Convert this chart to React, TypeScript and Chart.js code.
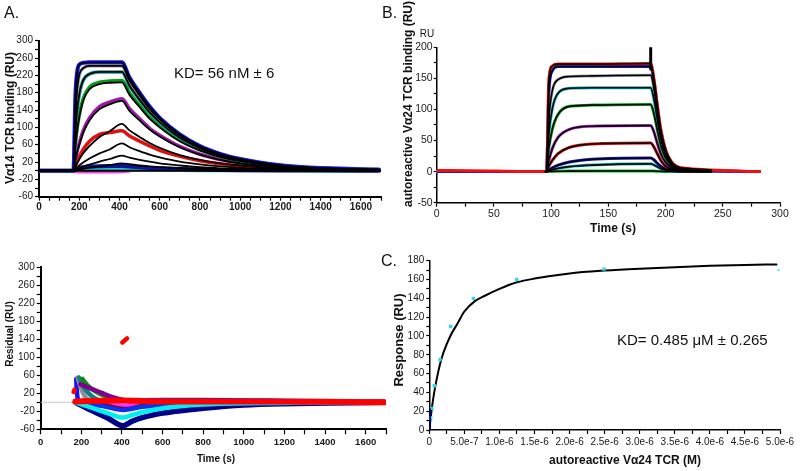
import React, { useEffect, useRef } from 'react';
import { Chart, registerables } from 'chart.js';
Chart.register(...registerables);

const FONT = '"Liberation Sans", Arial, Helvetica, sans-serif';

// ---------- Panel A: Va14 TCR sensorgrams ----------
const A_T = [0, 165, 171, 181, 191, 201, 221, 251, 301, 351, 412, 450, 500, 550, 600, 700, 800, 900, 1000, 1200, 1400, 1690];
const A_FIT1 = [0, 0, 0, 175, 232, 245, 249, 250, 250, 250, 250, 215, 180, 148, 122, 84, 57, 39, 27, 12.5, 6, 2.5];
const A_FIT2 = [0, 0, 0, 133, 194, 223, 237, 242, 242, 242, 242, 208, 174, 143, 119, 81, 56, 38, 26, 12, 6, 2.4];
const A_FIT3 = [0, 0, 0, 91, 146, 178, 210, 223, 228, 228, 228, 196, 164, 135, 112, 76, 52, 35, 24, 11, 5.5, 2.3];
const A_FIT4 = [0, 0, 0, 57, 98, 126, 163, 188, 200, 203, 204, 175, 147, 120, 100, 68, 47, 32, 22, 10, 5, 2];
const A_GREEN = [0, 0, 0, 60, 102, 130, 168, 193, 204, 207, 208, 180, 151, 124, 103, 70, 48, 33, 22, 10, 5, 2];
const A_FIT5 = [0, 0, 0, 24, 45, 61, 89, 116, 142, 153, 161, 138, 116, 95, 79, 54, 37, 25, 17, 8, 4, 1.6];
const A_MAGENTA = [0, 0, 0, 26, 48, 65, 94, 122, 148, 158, 166, 143, 120, 98, 82, 56, 38, 26, 18, 8, 4, 1.7];
const A_FIT6 = [0, 0, 0, 10, 18, 27, 41, 57, 78, 91, 108, 93, 78, 64, 53, 36, 25, 17, 12, 5, 2.6, 1];
const A_RED = [0, 0, 0, 12, 22, 33, 50, 68, 84, 88, 92, 80, 68, 57, 47, 33, 23, 16, 11, 5, 2.5, 1];
const A_FIT7 = [0, 0, 0, 4.4, 8.8, 12.6, 19.5, 28, 40, 49, 63, 54, 45, 37, 31, 21, 14.5, 10, 6.7, 3.2, 1.5, 0.6];
const A_FIT8 = [0, 0, 0, 2, 4, 6, 10, 14, 21, 27, 35, 30, 25, 21, 17, 12, 8, 5.4, 3.7, 1.8, 0.8, 0.4];
const A_FIT9 = [0, 0, 0, 1, 2, 3, 4.5, 7, 10, 13, 17, 15, 12, 10, 8.3, 5.7, 3.9, 2.6, 1.8, 0.9, 0.4, 0.2];
const A_FIT10 = [0, 0, 0, 3, 5, 6.5, 8, 9.5, 10.5, 11, 11, 9.5, 8, 6.5, 5.4, 3.7, 2.5, 1.7, 1.2, 0.5, 0.3, 0.1];
const A_FIT11 = [0, 0, 0, 1, 1.5, 2, 2.5, 3, 3, 3, 3, 2.6, 2.2, 1.8, 1.5, 1, 0.7, 0.5, 0.3, 0.2, 0.1, 0];
const A_PINK_T = [171, 300, 412, 450];
const A_PINK_V = [-2, -2.5, -2, 0];
const A_ZERO_T = [0, 1700];
const A_ZERO_V = [0, 0];

// ---------- Panel B: autoreactive Va24 TCR sensorgrams ----------
const B_T = [0, 10, 95, 96, 98, 101, 106, 116, 136, 186, 187, 190, 193, 196, 200, 205, 210, 220, 240, 282];
const B_1 = [2, 2, 0, 0, 147, 170, 173, 173, 173, 174, 174, 147, 104, 66, 35, 16, 8, 5, 2.5, 0];
const B_2 = [0, 0, 0, 0, 127, 162, 169, 169, 169, 169, 169, 144, 101, 64, 34, 15, 7.6, 2.5, 0.8, 0];
const B_3 = [0, 0, 0, 0, 84, 130, 148, 153, 154, 155, 155, 132, 93, 59, 31, 14, 7, 2.3, 0.8, 0];
const B_4 = [0, 0, 0, 0, 61, 101, 126, 134, 135, 135, 135, 115, 81, 51, 27, 12, 6, 2, 0.7, 0];
const B_5 = [0, 0, 0, 0, 38, 68, 92, 105, 107, 108, 108, 92, 65, 41, 22, 10, 5, 1.6, 0.5, 0];
const B_6 = [0, 0, 0, 0, 18, 37, 55, 68, 73, 74, 74, 63, 44, 28, 15, 6.7, 3.3, 1.1, 0.4, 0];
const B_7 = [0, 0, 0, 0, 9, 18, 29, 39, 44.5, 46, 46, 39, 28, 17.5, 9, 4, 2, 0.7, 0.2, 0];
const B_8 = [0, 0, 0, 0, 2.6, 6, 10.3, 15.4, 19.8, 22, 22, 18.7, 13, 8.4, 4.4, 2, 1, 0.3, 0.1, 0];
const B_9 = [0, 0, 0, 0, 1.3, 2.9, 5.2, 8, 10.5, 12.5, 12.5, 10.6, 7.5, 4.8, 2.5, 1.1, 0.6, 0.2, 0, 0];
const B_10 = [0, 0, 0, 0, 0.2, 0.4, 0.6, 0.8, 1, 1, 1, 0.85, 0.6, 0.4, 0.2, 0.1, 0, 0, 0, 0];
const B_SPIKE_T = [187, 187];
const B_SPIKE_V = [165, 200];

// ---------- Panel residual ----------
const R_NAVY_T = [171, 250, 330, 405, 450, 500, 600, 700, 800, 1000, 1200, 1690];
const R_NAVY_V = [0, -18, -35, -52, -42, -34, -24, -18, -13, -6, -3, 0];
const R_CYAN_T = [171, 250, 330, 405, 450, 500, 600, 800, 1000, 1690];
const R_CYAN_V = [0, -12, -24, -34, -28, -22, -13, -5, -2, 0];
const R_BLUE_T = [171, 300, 405, 500, 700, 1000, 1690];
const R_BLUE_V = [0, -8, -17, -10, -5, -2, 0];
const R_BLUE2_T = [400, 600, 800, 1100, 1690];
const R_BLUE2_V = [4, 5, 5, 4, 1];
const R_DKRED_T = [300, 420, 500, 600];
const R_DKRED_V = [-5, -15, -8, -3];
const R_MAG_T = [171, 420, 500];
const R_MAG_V = [0, -8, -3];
const R_PURPLE_T = [195, 250, 300, 350, 405, 450];
const R_PURPLE_V = [40, 30, 21, 12, 5, 2];
const R_GREEN_T = [205, 230, 260, 300, 350, 405];
const R_GREEN_V = [52, 38, 27, 17, 9, 3];
const R_TEAL_T = [188, 210, 240, 270, 300];
const R_TEAL_V = [55, 35, 18, 8, 2];
const R_GRAY_T = [182, 195, 215, 240];
const R_GRAY_V = [55, 35, 15, 3];
const R_ROYAL_T = [175, 178, 185];
const R_ROYAL_V = [52, 25, 0];
const R_RED_T = [171, 250, 400, 600, 800, 1000, 1200, 1400, 1690];
const R_RED_V = [2, 3, 4, 2, 2, 2, 1.5, 1, 0];
const R_REDSPOT_T = [162, 167];
const R_REDSPOT_V = [23, 28];
const R_REDOUT_T = [402, 425];
const R_REDOUT_V = [133, 142];

// ---------- Panel C: steady-state response ----------
const D_CONC = [1.95e-8, 3.9e-8, 7.1e-8, 1.53e-7, 3.05e-7, 6.28e-7, 1.247e-6, 2.49e-6, 4.98e-6];
const D_RESP = [13, 23, 47, 75, 110, 140, 160, 171, 170];
const D_LOW_CONC = [0, 0, 4e-9];
const D_LOW_RESP = [0, 12, 22];
const D_FIT_C = [0, 2e-8, 4e-8, 7e-8, 1e-7, 1.5e-7, 2e-7, 3e-7, 4e-7, 5e-7, 6.5e-7, 8e-7, 1e-6, 1.25e-6, 1.5e-6, 2e-6, 2.5e-6, 3e-6, 3.5e-6, 4e-6, 4.5e-6, 4.95e-6];
const D_FIT_R = [0, 13, 25, 40, 52, 69, 82, 100, 113, 126, 137, 143, 150, 157, 161, 166.5, 169.5, 171.5, 173, 174.5, 175.5, 176];

// ---------- helpers ----------
const pts = (xs: number[], ys: number[]) => xs.map((x, i) => ({ x, y: ys[i] }));

function line(xs: number[], ys: number[], color: string, width: number, order: number, extra: any = {}) {
  return {
    data: pts(xs, ys),
    borderColor: color,
    backgroundColor: color,
    borderWidth: width,
    pointRadius: 0,
    fill: false,
    cubicInterpolationMode: 'monotone',
    borderCapStyle: 'round',
    order,
    ...extra,
  };
}

function tickList(min: number, max: number, step: number) {
  const out: number[] = [];
  const n = Math.round((max - min) / step);
  for (let k = 0; k <= n; k++) out.push(Number((min + k * step).toPrecision(8)));
  return out;
}

function axis(o: {
  min: number; max: number; ticks: number[]; label: (v: number, i: number) => string;
  font: any; size: number; isX: boolean; tickLength: number; padding: number; border: number;
}) {
  return {
    type: 'linear',
    min: o.min,
    max: o.max,
    afterBuildTicks: (s: any) => { s.ticks = o.ticks.map((v) => ({ value: v })); },
    afterFit: (s: any) => { if (o.isX) s.height = o.size; else s.width = o.size; },
    ticks: {
      autoSkip: false, maxRotation: 0, minRotation: 0, padding: o.padding, color: '#1a1a1a',
      font: o.font,
      callback: (v: number, i: number) => o.label(v, i),
    },
    grid: { display: true, drawOnChartArea: false, drawTicks: true, tickLength: o.tickLength, color: '#000', tickColor: '#000', tickWidth: 1.2 },
    border: { display: true, color: '#000', width: o.border },
  };
}

function baseOptions(pad: any, x: any, y: any) {
  return {
    responsive: false,
    animation: false,
    events: [],
    layout: { padding: pad },
    plugins: { legend: { display: false }, tooltip: { enabled: false }, title: { display: false } },
    scales: { x, y },
  };
}

// ---------- chart configs ----------
function configA() {
  const data = [
    line(A_ZERO_T, A_ZERO_V, '#000', 2, 1, { cubicInterpolationMode: 'default' }),
    line(A_T, A_FIT1, '#1414ff', 4, 3),
    line(A_T, A_FIT2, '#9a9a9a', 3.5, 3),
    line(A_T, A_FIT3, '#109a9a', 3.5, 3),
    line(A_T, A_GREEN, '#0a9a1a', 3.5, 3),
    line(A_T, A_MAGENTA, '#a018a8', 3.5, 3),
    line(A_T, A_RED, '#e01010', 3.5, 3),
    line(A_T, A_FIT10, '#10109a', 4, 3),
    line(A_T, A_FIT11, '#20c8c8', 3.5, 3),
    line(A_PINK_T, A_PINK_V, '#ff40e0', 3.5, 3),
    line(A_T, A_FIT1, '#000', 1.8, 2),
    line(A_T, A_FIT2, '#000', 1.8, 2),
    line(A_T, A_FIT3, '#000', 1.8, 2),
    line(A_T, A_FIT4, '#000', 1.8, 2),
    line(A_T, A_FIT5, '#000', 1.8, 2),
    line(A_T, A_FIT6, '#000', 1.8, 2),
    line(A_T, A_FIT7, '#000', 1.8, 2),
    line(A_T, A_FIT8, '#000', 1.8, 2),
    line(A_T, A_FIT9, '#000', 1.8, 2),
  ];
  const x = axis({
    min: 0, max: 1700, ticks: tickList(0, 1700, 50),
    label: (v) => (v % 200 === 0 && v <= 1600 ? String(v) : ''),
    font: { family: FONT, size: 10, weight: 'bold' }, size: 30, isX: true, tickLength: 4, padding: 1, border: 2,
  });
  const y = axis({
    min: -60, max: 300, ticks: tickList(-60, 300, 20),
    label: (v) => ((v + 60) % 40 === 0 ? String(v) : ''),
    font: { family: FONT, size: 10 }, size: 36, isX: false, tickLength: 4, padding: 2, border: 2,
  });
  return { type: 'line', data: { datasets: data }, options: baseOptions({ left: 3, top: 40.7, right: 419, bottom: 244.3 }, x, y) };
}

function configB() {
  const series = [B_1, B_2, B_3, B_4, B_5, B_6, B_7, B_8, B_9, B_10];
  const colors = ['#f01010', '#1818e0', '#a0a0a0', '#10c0c8', '#10b020', '#b030c0', '#e01010', '#1818c0', '#10c0c8', '#10c020'];
  const fitT = B_T.slice(2, 19);
  const data: any[] = [];
  series.forEach((s, i) => data.push(line(B_T, s, colors[i], 3, 3)));
  series.forEach((s) => data.push(line(fitT, s.slice(2, 19), '#000', 1.6, 2)));
  data.push(line(B_SPIKE_T, B_SPIKE_V, '#000', 3, 1, { cubicInterpolationMode: 'default' }));
  const x = axis({
    min: 0, max: 300, ticks: tickList(0, 300, 25),
    label: (v) => (v % 50 === 0 ? String(v) : ''),
    font: { family: FONT, size: 10.5 }, size: 30, isX: true, tickLength: 4, padding: 1, border: 1.5,
  });
  const y = axis({
    min: -50, max: 200, ticks: tickList(-50, 200, 25),
    label: (v) => (v % 50 === 0 ? String(v) : ''),
    font: { family: FONT, size: 10.5 }, size: 30, isX: false, tickLength: 3, padding: 1, border: 1.5,
  });
  return { type: 'line', data: { datasets: data }, options: baseOptions({ left: 406.7, top: 47.3, right: 20, bottom: 238.3 }, x, y) };
}

function configR() {
  const w = 4.5;
  const data = [
    line([0, 1700], [0, 0], '#c8c8c8', 1, 9, { cubicInterpolationMode: 'default' }),
    line(R_NAVY_T, R_NAVY_V, '#000088', w + 1, 5),
    line(R_CYAN_T, R_CYAN_V, '#00f0f0', w, 4),
    line(R_BLUE_T, R_BLUE_V, '#1030f0', w, 4),
    line(R_BLUE2_T, R_BLUE2_V, '#2020d0', w, 4),
    line(R_DKRED_T, R_DKRED_V, '#800000', w, 4),
    line(R_MAG_T, R_MAG_V, '#ff30ff', w, 4),
    line(R_PURPLE_T, R_PURPLE_V, '#800090', w, 4),
    line(R_GREEN_T, R_GREEN_V, '#108a10', w, 4),
    line(R_TEAL_T, R_TEAL_V, '#108080', w, 4),
    line(R_GRAY_T, R_GRAY_V, '#909090', w, 4),
    line(R_ROYAL_T, R_ROYAL_V, '#1010ff', w, 4),
    line(R_RED_T, R_RED_V, '#ff0000', w + 1.5, 2),
    line(R_REDSPOT_T, R_REDSPOT_V, '#ff0000', w, 2, { cubicInterpolationMode: 'default' }),
    line(R_REDOUT_T, R_REDOUT_V, '#ff0000', w, 2, { cubicInterpolationMode: 'default' }),
  ];
  const x = axis({
    min: 0, max: 1700, ticks: tickList(0, 1700, 100),
    label: (v) => (v % 200 === 0 && v <= 1600 ? String(v) : ''),
    font: { family: FONT, size: 9.5, weight: 'bold' }, size: 30, isX: true, tickLength: 5, padding: 2, border: 2,
  });
  const y = axis({
    min: -60, max: 300, ticks: tickList(-60, 300, 20),
    label: (v) => ((v + 60) % 40 === 0 ? String(v) : ''),
    font: { family: FONT, size: 10 }, size: 36, isX: false, tickLength: 4, padding: 2, border: 2,
  });
  return { type: 'line', data: { datasets: data }, options: baseOptions({ left: 4.7, top: 267.3, right: 414, bottom: 11.7 }, x, y) };
}

function configD() {
  const data = [
    line(D_FIT_C, D_FIT_R, '#000', 2, 2),
    line(D_LOW_CONC, D_LOW_RESP, '#000080', 3, 1, { cubicInterpolationMode: 'default' }),
    {
      data: pts(D_CONC, D_RESP), showLine: false, borderWidth: 0, pointStyle: 'rect',
      pointRadius: D_CONC.map((_, i) => (i === D_CONC.length - 1 ? 1.3 : 2.4)),
      pointBackgroundColor: '#30d8e8', pointBorderColor: '#30d8e8', order: 1,
    },
  ];
  const x = axis({
    min: 0, max: 5e-6, ticks: tickList(0, 5e-6, 2.5e-7),
    label: (v, i) => (i % 2 === 0 ? (i === 0 ? '0' : Number(v).toExponential(1)) : ''),
    font: { family: FONT, size: 10 }, size: 30, isX: true, tickLength: 4, padding: 2, border: 1.5,
  });
  const y = axis({
    min: 0, max: 180, ticks: tickList(0, 180, 10),
    label: (v) => (v % 20 === 0 ? String(v) : ''),
    font: { family: FONT, size: 10 }, size: 30, isX: false, tickLength: 3, padding: 2, border: 1.5,
  });
  return { type: 'line', data: { datasets: data }, options: baseOptions({ left: 399.3, top: 260.7, right: 20, bottom: 11 }, x, y) };
}

function Panel({ make }: { make: () => any }) {
  const ref = useRef<HTMLCanvasElement>(null);
  useEffect(() => {
    const chart = new Chart(ref.current as HTMLCanvasElement, make());
    return () => chart.destroy();
  }, []);
  return (
    <canvas ref={ref} width={800} height={471}
      style={{ position: 'absolute', left: 0, top: 0, width: 800, height: 471 }} />
  );
}

function Txt({ x, y, size, bold, children }: any) {
  return (
    <div style={{
      position: 'absolute', left: x, top: y, fontFamily: FONT, fontSize: size, lineHeight: 1,
      fontWeight: bold ? 'bold' : 'normal', whiteSpace: 'nowrap', color: '#111',
    }}>{children}</div>
  );
}

function CTxt({ cx, cy, size, bold, rotate, children }: any) {
  return (
    <div style={{
      position: 'absolute', left: cx, top: cy, fontFamily: FONT, fontSize: size, lineHeight: 1,
      fontWeight: bold ? 'bold' : 'normal', whiteSpace: 'nowrap', color: '#111',
      transform: `translate(-50%, -50%)${rotate ? ' rotate(-90deg)' : ''}`,
    }}>{children}</div>
  );
}

export default function App() {
  return (
    <div style={{ position: 'absolute', left: 0, top: 0, width: 800, height: 471, background: '#fff', overflow: 'hidden' }}>
      <Panel make={configA} />
      <Panel make={configB} />
      <Panel make={configR} />
      <Panel make={configD} />
      <Txt x={4} y={5} size={16}>A.</Txt>
      <Txt x={382} y={5} size={16}>B.</Txt>
      <Txt x={381} y={253} size={16}>C.</Txt>
      <Txt x={174} y={65} size={15}>KD= 56 nM ± 6</Txt>
      <Txt x={617} y={331.5} size={15}>KD= 0.485 μM ± 0.265</Txt>
      <CTxt cx={10} cy={118} size={12} bold rotate>Vα14 TCR binding (RU)</CTxt>
      <CTxt cx={408} cy={104} size={12} bold rotate>autoreactive Vα24 TCR binding (RU)</CTxt>
      <CTxt cx={427} cy={34} size={10}>RU</CTxt>
      <CTxt cx={613} cy={228} size={12} bold>Time (s)</CTxt>
      <CTxt cx={10} cy={334} size={10} bold rotate>Residual (RU)</CTxt>
      <CTxt cx={216} cy={459} size={10} bold>Time (s)</CTxt>
      <CTxt cx={398} cy={340} size={13} bold rotate>Response (RU)</CTxt>
      <CTxt cx={625} cy={460} size={12} bold>autoreactive Vα24 TCR (M)</CTxt>
    </div>
  );
}
